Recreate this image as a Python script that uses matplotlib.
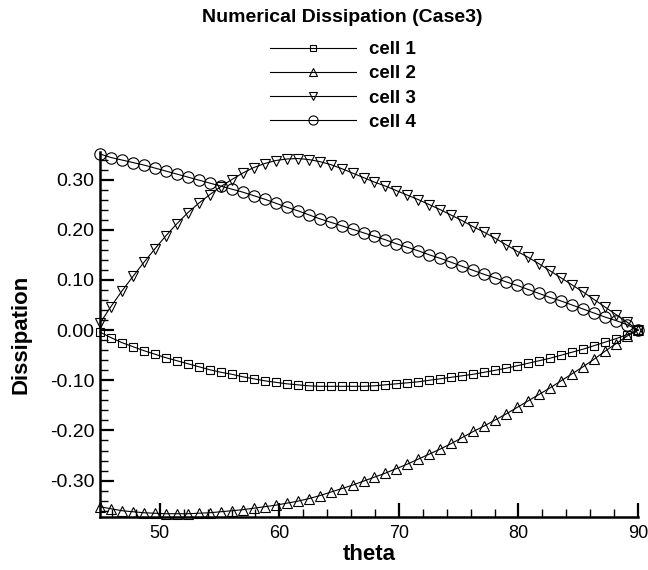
import matplotlib
matplotlib.use('Agg')
import matplotlib.pyplot as plt
from matplotlib.ticker import MultipleLocator, FormatStrFormatter
import numpy as np

plt.rcParams['font.family'] = ['Liberation Sans', 'DejaVu Sans']
plt.rcParams['axes.unicode_minus'] = False

# sample angles (deg)
theta = np.linspace(45, 90, 50)

cell1 = [-0.004, -0.015, -0.025, -0.033, -0.041, -0.048, -0.055, -0.061, -0.067, -0.073,
         -0.079, -0.084, -0.088, -0.093, -0.097, -0.101, -0.104, -0.107, -0.109, -0.111,
         -0.112, -0.112, -0.112, -0.112, -0.112, -0.111, -0.109, -0.107, -0.105, -0.103,
         -0.100, -0.097, -0.094, -0.091, -0.088, -0.084, -0.080, -0.076, -0.071, -0.066,
         -0.061, -0.056, -0.050, -0.044, -0.038, -0.031, -0.024, -0.017, -0.009, 0.0]
cell2 = [-0.352, -0.356, -0.360, -0.362, -0.364, -0.365, -0.366, -0.366, -0.366, -0.365,
         -0.364, -0.362, -0.360, -0.358, -0.355, -0.352, -0.349, -0.345, -0.341, -0.336,
         -0.330, -0.323, -0.316, -0.309, -0.301, -0.293, -0.285, -0.276, -0.267, -0.257,
         -0.247, -0.237, -0.226, -0.214, -0.202, -0.191, -0.179, -0.167, -0.154, -0.141,
         -0.128, -0.115, -0.101, -0.087, -0.073, -0.058, -0.042, -0.027, -0.012, 0.0]
cell3 = [0.014, 0.047, 0.078, 0.107, 0.135, 0.162, 0.188, 0.212, 0.234, 0.253,
         0.270, 0.286, 0.300, 0.313, 0.324, 0.332, 0.338, 0.341, 0.342, 0.340,
         0.336, 0.330, 0.322, 0.313, 0.304, 0.295, 0.287, 0.278, 0.269, 0.260,
         0.250, 0.240, 0.229, 0.218, 0.206, 0.195, 0.183, 0.170, 0.157, 0.145,
         0.132, 0.118, 0.104, 0.090, 0.076, 0.061, 0.046, 0.031, 0.016, 0.0]
cell4 = [0.351, 0.344, 0.339, 0.334, 0.329, 0.323, 0.317, 0.311, 0.305, 0.299,
         0.293, 0.287, 0.281, 0.275, 0.268, 0.261, 0.253, 0.245, 0.238, 0.230,
         0.222, 0.215, 0.208, 0.201, 0.194, 0.187, 0.180, 0.172, 0.165, 0.158,
         0.150, 0.143, 0.135, 0.127, 0.119, 0.111, 0.104, 0.096, 0.089, 0.081,
         0.073, 0.065, 0.058, 0.050, 0.042, 0.034, 0.026, 0.019, 0.011, 0.0]

labels = ['cell 1', 'cell 2', 'cell 3', 'cell 4']
markers = ['s', '^', 'v', 'o']
msizes = [6, 7.5, 7.5, 8.2]

fig = plt.figure(figsize=(6.48, 5.70), dpi=100)
ax = fig.add_axes([100/648, 53/570, 538/648, 365/570])

for y, lab, m, ms in zip([cell1, cell2, cell3, cell4], labels, markers, msizes):
    ax.plot(theta, y, color='black', lw=0.8, marker=m, ms=ms, mfc='none',
            mec='black', mew=0.8, label=lab, clip_on=False, zorder=3)

ax.set_xlim(45, 90)
ax.set_ylim(-0.3725, 0.355)
ax.xaxis.set_major_locator(MultipleLocator(10))
ax.xaxis.set_minor_locator(MultipleLocator(2))
ax.yaxis.set_major_locator(MultipleLocator(0.1))
ax.yaxis.set_minor_locator(MultipleLocator(0.02))
ax.yaxis.set_major_formatter(FormatStrFormatter('%.2f'))

ax.spines['top'].set_visible(False)
ax.spines['right'].set_visible(False)
ax.spines['left'].set_linewidth(1.8)
ax.spines['bottom'].set_linewidth(1.8)
ax.tick_params(which='major', direction='in', length=10, width=1.6)
ax.tick_params(which='minor', direction='in', length=5.5, width=1.0)
ax.tick_params(axis='x', which='major', pad=6, labelsize=13)
ax.tick_params(axis='y', which='major', pad=4, labelsize=14)

ax.set_xlabel('theta', fontsize=16, fontweight='bold', labelpad=1)
ax.set_ylabel('Dissipation', fontsize=16, fontweight='bold', labelpad=13)

fig.text(342/648, 1 - 17/570, 'Numerical Dissipation (Case3)', ha='center', va='center',
         fontsize=14, fontweight='bold')

fig.legend(loc='upper left', bbox_to_anchor=(270/648, 1 - 41/570), frameon=False,
           prop={'size': 13.5, 'weight': 'bold'}, handlelength=4.6, handletextpad=0.7,
           labelspacing=0.38, borderpad=0, borderaxespad=0, numpoints=1, markerscale=0.8)

plt.savefig('out.png', dpi=100)
